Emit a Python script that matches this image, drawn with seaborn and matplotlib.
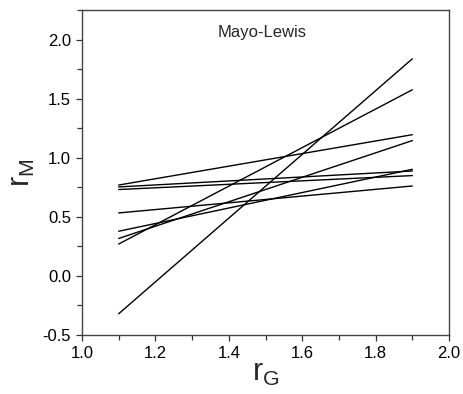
import matplotlib
matplotlib.use("Agg")
import matplotlib.pyplot as plt
from matplotlib.ticker import MultipleLocator
import seaborn as sns
import pandas as pd

# r_G range used for each line
rg_values = [1.1, 1.9]
# r_M at r_G = 1.1 and at r_G = 1.9, one entry per line
rm_start = [-0.32, 0.27, 0.317, 0.378, 0.533, 0.731, 0.753, 0.769]
rm_end = [1.837, 1.575, 1.145, 0.902, 0.761, 0.849, 0.888, 1.195]

rows = []
for i, (a, b) in enumerate(zip(rm_start, rm_end)):
    rows.append({"line": i, "rG": rg_values[0], "rM": a})
    rows.append({"line": i, "rG": rg_values[1], "rM": b})
df = pd.DataFrame(rows)

sns.set_style("ticks")
plt.rcParams['font.family'] = ['Liberation Sans', 'DejaVu Sans']
plt.rcParams['mathtext.default'] = 'regular'
plt.rcParams['axes.unicode_minus'] = False

fig = plt.figure(figsize=(4.64, 3.94), dpi=100)
ax = fig.add_axes([0.1767, 0.1497, 0.791, 0.8249])

sns.lineplot(data=df, x="rG", y="rM", units="line", estimator=None,
             color="black", linewidth=1.0, ax=ax, legend=False)

ax.set_xlim(1.0, 2.0)
ax.set_ylim(-0.5, 2.25)
ax.xaxis.set_major_locator(MultipleLocator(0.2))
ax.xaxis.set_minor_locator(MultipleLocator(0.1))
ax.yaxis.set_major_locator(MultipleLocator(0.5))
ax.yaxis.set_minor_locator(MultipleLocator(0.25))
ax.tick_params(which='major', direction='out', length=4.5, width=0.9,
               labelsize=12, color='#333333', labelcolor='black')
ax.tick_params(which='minor', direction='out', length=3.5, width=0.9,
               color='#333333')
for s in ax.spines.values():
    s.set_color('#444444')
    s.set_linewidth(1.0)

ax.set_xlabel("")
ax.set_ylabel(r"$r_M$", fontsize=22, labelpad=4)
fig.text(0.572, 0.032, r"$r_G$", fontsize=22, ha='center', va='baseline')
ax.text(0.49, 0.93, "Mayo-Lewis", transform=ax.transAxes,
        fontsize=12, ha='center', va='center')

fig.savefig("out.png", dpi=100)
